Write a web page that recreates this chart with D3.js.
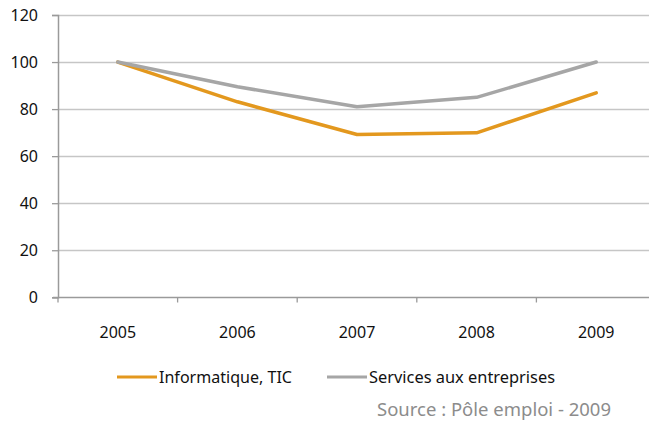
<!DOCTYPE html>
<html>
<head>
<meta charset="utf-8">
<script src="https://cdn.jsdelivr.net/npm/d3@7"></script>
<style>
    body { margin: 0; background: #fff; }
    text { font-family: "Noto Sans", sans-serif; }
</style>
</head>
<body>
<div id="chart"></div>
<script>
// chart data
const years = ["2005", "2006", "2007", "2008", "2009"];
const informatique = [100, 83.1, 69.2, 69.9, 86.9];
const services = [100, 89.5, 81.0, 85.0, 100];
const yTicks = [0, 20, 40, 60, 80, 100, 120];
const seriesNames = ["Informatique, TIC", "Services aux entreprises"];
const seriesColors = ["#E3981E", "#A6A6A6"];
const sourceText = "Source : Pôle emploi - 2009";

const width = 649, height = 421;
const margin = {top: 15, left: 58, bottom: 124};
const bandWidth = 119.6;

const svg = d3.select("#chart").append("svg")
    .attr("width", width)
    .attr("height", height);

// scales
const x = d3.scaleBand()
    .domain(years)
    .range([margin.left, margin.left + bandWidth * years.length])
    .padding(0);

const y = d3.scaleLinear()
    .domain([0, 120])
    .range([height - margin.bottom + 0.3, margin.top]);

const xRight = margin.left + bandWidth * years.length;

// gridlines
svg.append("g")
    .selectAll("line")
    .data(yTicks.filter(d => d > 0))
    .enter()
    .append("line")
    .attr("x1", margin.left)
    .attr("x2", xRight)
    .attr("y1", d => Math.round(y(d)) + 0.5)
    .attr("y2", d => Math.round(y(d)) + 0.5)
    .attr("stroke", "#C6C6C6")
    .attr("stroke-width", 1.3);

// y axis
const yAxis = svg.append("g")
    .attr("transform", `translate(${margin.left},0)`)
    .call(d3.axisLeft(y).tickValues(yTicks).tickSize(6).tickPadding(14));
yAxis.select(".domain").attr("stroke", "#9A9A9A").attr("stroke-width", 1.5);
yAxis.selectAll(".tick line").attr("stroke", "#9A9A9A").attr("stroke-width", 1.3);
yAxis.selectAll(".tick text")
    .attr("font-size", 16)
    .attr("fill", "#111")
    .style("font-family", "'Noto Sans', sans-serif");

// x axis (ticks at band boundaries)
const xAxisG = svg.append("g")
    .attr("transform", `translate(0,${Math.round(y(0)) + 0.5})`);
xAxisG.append("line")
    .attr("x1", margin.left - 5)
    .attr("x2", xRight)
    .attr("stroke", "#9A9A9A")
    .attr("stroke-width", 1.5);
xAxisG.selectAll(".xtick")
    .data(years)
    .enter()
    .append("line")
    .attr("class", "xtick")
    .attr("x1", d => x(d))
    .attr("x2", d => x(d))
    .attr("y1", 0)
    .attr("y2", 5)
    .attr("stroke", "#9A9A9A")
    .attr("stroke-width", 1.3);
xAxisG.selectAll(".xlabel")
    .data(years)
    .enter()
    .append("text")
    .attr("class", "xlabel")
    .attr("x", d => x(d) + x.bandwidth() / 2)
    .attr("y", 40)
    .attr("text-anchor", "middle")
    .attr("font-size", 16)
    .attr("fill", "#111")
    .text(d => d);

// lines
const line = d3.line()
    .x((d, i) => x(years[i]) + x.bandwidth() / 2)
    .y(d => y(d));

[informatique, services].forEach((s, i) => {
    svg.append("path")
        .datum(s)
        .attr("d", line)
        .attr("fill", "none")
        .attr("stroke", seriesColors[i])
        .attr("stroke-width", 3.5)
        .attr("stroke-linejoin", "round")
        .attr("stroke-linecap", "round");
});

// legend
const legendX = [117, 327];
const legendW = [133, 186];
const legend = svg.append("g");
seriesNames.forEach((name, i) => {
    legend.append("line")
        .attr("x1", legendX[i])
        .attr("x2", legendX[i] + 40)
        .attr("y1", 377)
        .attr("y2", 377)
        .attr("stroke", seriesColors[i])
        .attr("stroke-width", 3);
    legend.append("text")
        .attr("x", legendX[i] + 42)
        .attr("y", 383)
        .attr("font-size", 16)
        .attr("textLength", legendW[i])
        .attr("lengthAdjust", "spacingAndGlyphs")
        .attr("fill", "#111")
        .text(name);
});

// source
svg.append("text")
    .attr("x", 377)
    .attr("y", 416)
    .attr("font-size", 18)
    .attr("textLength", 234)
    .attr("lengthAdjust", "spacingAndGlyphs")
    .attr("fill", "#8C8C8C")
    .text(sourceText);
</script>
</body>
</html>
